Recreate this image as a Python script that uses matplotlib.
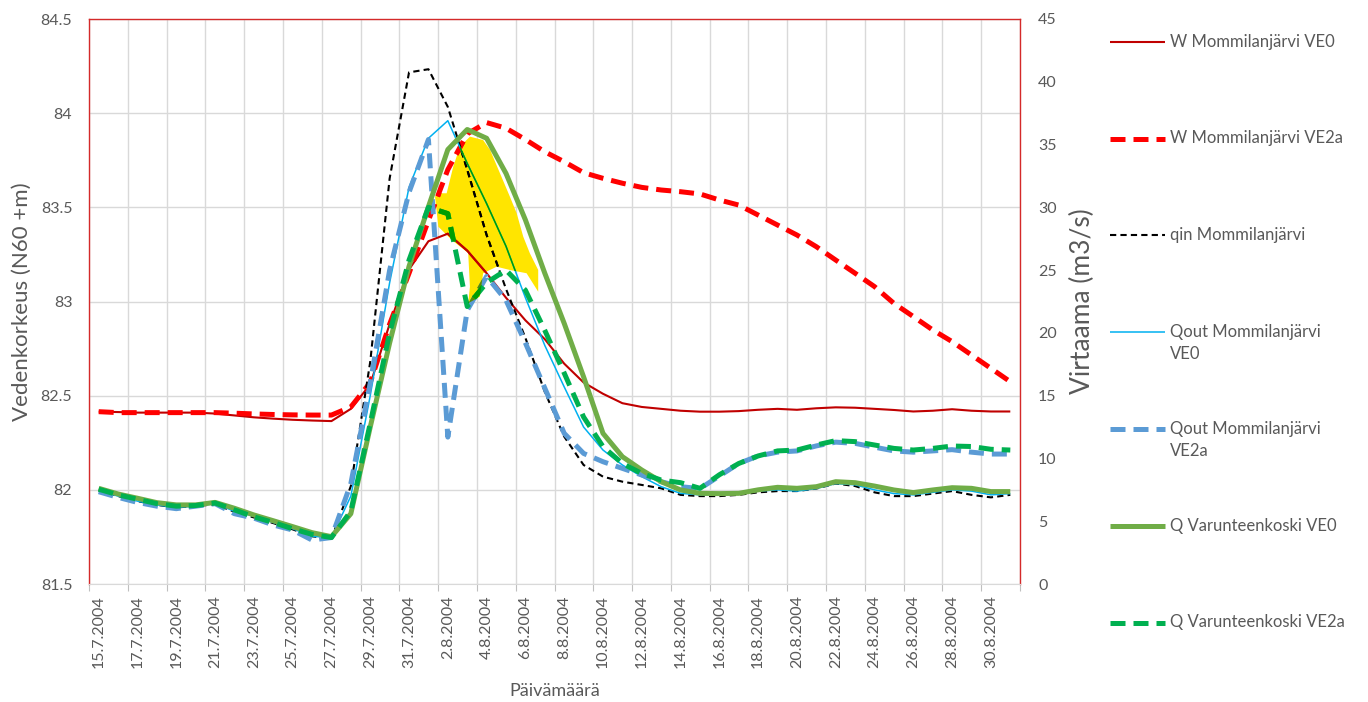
import matplotlib.pyplot as plt
import numpy as np
from matplotlib.lines import Line2D
from matplotlib.patches import Polygon
from matplotlib.colors import to_rgb

plt.rcParams["font.family"] = ["Lato", "DejaVu Sans"]

FIG_W, FIG_H = 1368, 702
TEXT = "#595959"
GRID = "#D9D9D9"
FRAME = "#D42A2A"
YELLOW = "#FFE500"

# daily categories 15.7.2004 ... 31.8.2004
dates = [f"{d}.7.2004" for d in range(15, 32)] + [f"{d}.8.2004" for d in range(1, 32)]

# water level, N60 +m (left axis)
w_ve0 = [82.415, 82.413, 82.41, 82.41, 82.41, 82.41, 82.405, 82.395, 82.385, 82.378, 82.372, 82.368, 82.365,
         82.43, 82.56, 82.88, 83.17, 83.32, 83.36, 83.27, 83.15, 83.02, 82.90, 82.80,
         82.67, 82.57, 82.51, 82.46, 82.44, 82.43, 82.42, 82.415, 82.415, 82.418, 82.425, 82.43,
         82.425, 82.433, 82.438, 82.436, 82.43, 82.424, 82.416, 82.42, 82.428, 82.42, 82.416, 82.416]
w_ve2a = [82.415, 82.41, 82.41, 82.41, 82.41, 82.41, 82.41, 82.407, 82.403, 82.40, 82.398, 82.397, 82.397,
          82.44, 82.57, 82.88, 83.15, 83.43, 83.70, 83.89, 83.95, 83.92, 83.86, 83.795,
          83.742, 83.684, 83.654, 83.628, 83.606, 83.592, 83.583, 83.571, 83.539, 83.512, 83.459, 83.406,
          83.353, 83.291, 83.22, 83.15, 83.079, 82.99, 82.92, 82.849, 82.787, 82.716, 82.645, 82.574]

# discharge, m3/s (right axis)
qin = [7.45, 7.0, 6.6, 6.3, 6.1, 6.2, 6.35, 5.75, 5.3, 4.85, 4.35, 3.8, 3.6,
       7.8, 17.7, 32.3, 40.75, 41.0, 38.0, 33.0, 27.8, 23.5, 19.6, 15.3,
       11.74, 9.48, 8.55, 8.15, 7.89, 7.62, 7.1, 7.0, 7.0, 7.1, 7.3, 7.4,
       7.4, 7.6, 8.0, 7.8, 7.3, 7.0, 7.0, 7.2, 7.4, 7.1, 6.9, 7.1]
qout_ve0 = [7.45, 7.0, 6.6, 6.3, 6.1, 6.2, 6.4, 5.8, 5.4, 4.9, 4.4, 3.8, 3.7,
            7.0, 15.0, 24.0, 31.6, 35.5, 36.9, 33.5, 30.3, 26.9, 22.8, 19.0,
            15.7, 12.5, 10.67, 9.48, 8.55, 7.75, 7.22, 7.1, 7.1, 7.2, 7.4, 7.5,
            7.4, 7.6, 8.0, 7.9, 7.5, 7.2, 7.1, 7.3, 7.5, 7.4, 7.1, 7.2]
qout_ve2a = [7.35, 6.9, 6.5, 6.2, 6.0, 6.2, 6.4, 5.6, 5.25, 4.7, 4.3, 3.5, 3.7,
             8.0, 16.0, 25.0, 31.2, 35.4, 11.7, 21.8, 24.5, 22.6, 19.2, 15.6,
             12.0, 10.4, 9.74, 9.21, 8.68, 8.15, 7.75, 7.6, 8.6, 9.6, 10.2, 10.5,
             10.6, 11.0, 11.3, 11.2, 10.9, 10.6, 10.5, 10.6, 10.7, 10.5, 10.35, 10.35]
q_var_ve0 = [7.62, 7.17, 6.83, 6.48, 6.3, 6.3, 6.5, 6.03, 5.5, 5.04, 4.57, 4.09, 3.77,
             5.6, 12.5, 19.2, 25.3, 30.05, 34.6, 36.2, 35.5, 32.7, 29.0, 24.75,
             20.76, 16.5, 12.0, 10.14, 9.08, 8.15, 7.49, 7.22, 7.2, 7.22, 7.5, 7.7,
             7.62, 7.75, 8.15, 8.07, 7.8, 7.49, 7.28, 7.49, 7.67, 7.62, 7.36, 7.36]
q_var_ve2a = [7.55, 7.1, 6.75, 6.4, 6.2, 6.25, 6.45, 5.9, 5.35, 4.9, 4.4, 3.95, 3.7,
              5.8, 12.8, 20.0, 25.8, 30.0, 29.5, 22.1, 24.0, 25.0, 23.4, 20.2,
              16.8, 13.3, 10.94, 9.6, 8.8, 8.28, 8.07, 7.62, 8.7, 9.6, 10.2, 10.6,
              10.67, 11.07, 11.42, 11.34, 11.07, 10.8, 10.67, 10.8, 10.99, 10.95, 10.73, 10.67]

# hand-drawn highlight around the peak, (day index, m3/s)
highlight = [(17.34, 30.85), (17.51, 28.46), (18.20, 27.40), (19.05, 26.36), (19.14, 23.68),
             (19.05, 22.36), (19.65, 22.88), (19.82, 24.75), (20.52, 25.27), (21.20, 25.01),
             (22.06, 24.75), (22.66, 23.28), (22.66, 25.01), (22.23, 26.34), (21.89, 27.66),
             (21.55, 29.53), (21.20, 30.85), (20.69, 32.71), (20.18, 34.57), (19.82, 35.36),
             (19.14, 35.63), (18.62, 34.83), (18.28, 33.24), (17.94, 31.12), (17.51, 31.12)]

DASH = (3.0, 1.6)
series = [
    ("W Mommilanjärvi VE0", w_ve0, "left", dict(color="#C00000", lw=1.5)),
    ("W Mommilanjärvi VE2a", w_ve2a, "left", dict(color="#FF0000", lw=3.6, dashes=DASH)),
    ("qin Mommilanjärvi", qin, "right", dict(color="black", lw=1.5, dashes=(3, 2))),
    ("Qout Mommilanjärvi\nVE0", qout_ve0, "right", dict(color="#00B0F0", lw=1.1)),
    ("Qout Mommilanjärvi\nVE2a", qout_ve2a, "right", dict(color="#5B9BD5", lw=3.6, dashes=DASH)),
    ("Q Varunteenkoski VE0", q_var_ve0, "right", dict(color="#70AD47", lw=3.6)),
    ("Q Varunteenkoski VE2a", q_var_ve2a, "right", dict(color="#00B050", lw=3.6, dashes=DASH)),
]


def fx(px):
    return px / FIG_W


def fy(py):
    return 1 - py / FIG_H


fig = plt.figure(figsize=(FIG_W / 100, FIG_H / 100), dpi=100)
ax = fig.add_axes([fx(89), fy(584), fx(1020 - 89), (584 - 19) / FIG_H])
ax2 = ax.twinx()

days = np.arange(len(dates))

# highlighter sits under the lines; lines crossing it get a "multiplied" copy
marker_patch = Polygon(highlight, closed=True, transform=ax2.transData,
                       facecolor=YELLOW, edgecolor="none", zorder=1.8)
ax.add_patch(marker_patch)
yel = np.array(to_rgb(YELLOW))

for label, values, side, style in series:
    target = ax if side == "left" else ax2
    target.plot(days, values, solid_capstyle="butt", dash_capstyle="butt", **style)
    tinted = dict(style)
    tinted["color"] = tuple(np.array(to_rgb(style["color"])) * yel)
    (dup,) = target.plot(days, values, solid_capstyle="butt", dash_capstyle="butt", **tinted)
    dup.set_clip_path(marker_patch)

ax.set_xlim(-0.5, len(dates) - 0.5)
ax.set_ylim(81.5, 84.5)
ax2.set_ylim(0, 45)

ax.set_xticks(days[::2])
ax.set_xticklabels(dates[::2], rotation=90, fontsize=11.5, color=TEXT)
ax.set_xticks(np.arange(-0.5, len(dates), 2), minor=True)
ax.tick_params(axis="x", which="major", length=0, pad=8)
ax.tick_params(axis="x", which="minor", length=5, width=0.8, color="#BFBFBF")

yl = np.arange(81.5, 84.51, 0.5)
ax.set_yticks(yl)
ax.set_yticklabels([f"{v:g}" for v in yl], fontsize=11.5, color=TEXT)
ax.tick_params(axis="y", length=0, pad=12)

yr = np.arange(0, 46, 5)
ax2.set_yticks(yr)
ax2.set_yticklabels([str(v) for v in yr], fontsize=11.5, color=TEXT)
ax2.tick_params(axis="y", length=0, pad=13)

ax.grid(axis="x", which="minor", color=GRID, lw=1)
ax.grid(axis="y", which="major", color=GRID, lw=1)

for s in ("left", "top", "right"):
    ax.spines[s].set_color(FRAME)
    ax.spines[s].set_linewidth(1)
ax.spines["bottom"].set_color(GRID)
for s in ax2.spines.values():
    s.set_visible(False)

fig.text(fx(22), fy(301.5), "Vedenkorkeus (N60 +m)", rotation=90, ha="center", va="center",
         fontsize=16, color=TEXT)
fig.text(fx(1082), fy(301.5), "Virtaama (m3/s)", rotation=90, ha="center", va="center",
         fontsize=19, color=TEXT)
fig.text(fx(555), fy(691), "Päivämäärä", ha="center", va="center", fontsize=13, color=TEXT)

# legend column to the right of the plot
for k, (label, values, side, style) in enumerate(series):
    y0 = 41.7 + 96.8 * k
    kw = dict(style)
    fig.add_artist(Line2D([fx(1110), fx(1165)], [fy(y0), fy(y0)], transform=fig.transFigure,
                          solid_capstyle="butt", dash_capstyle="butt", **kw))
    for i, part in enumerate(label.split("\n")):
        fig.text(fx(1170), fy(y0 + 21.6 * i), part, ha="left", va="center",
                 fontsize=12, color=TEXT)

fig.savefig("out.png", dpi=100)
